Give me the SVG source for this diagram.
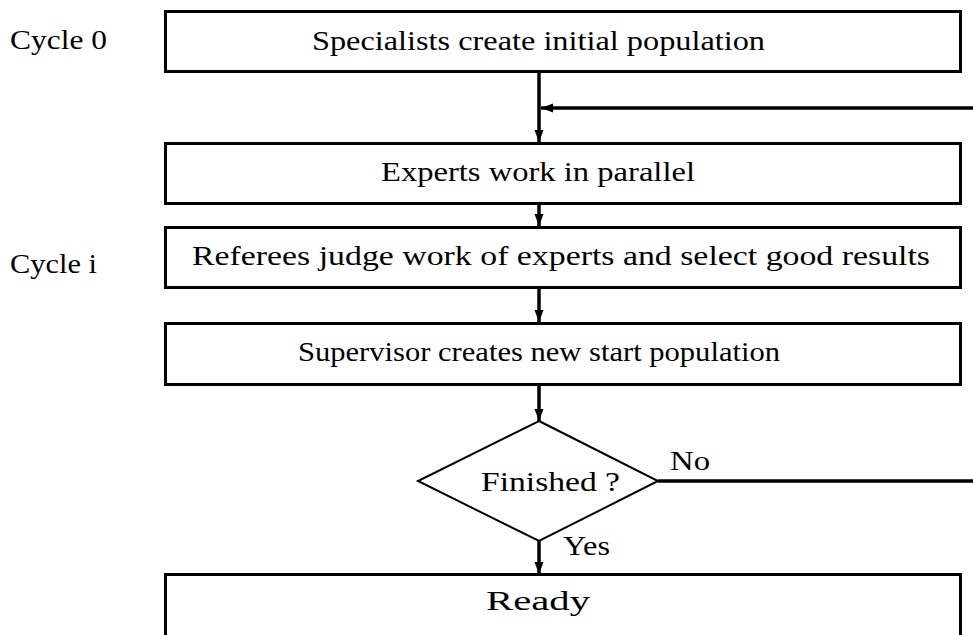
<svg xmlns="http://www.w3.org/2000/svg" width="973" height="635" viewBox="0 0 973 635">
<style>
.box{fill:#fff;stroke:#000;stroke-width:3}
.dia{fill:#fff;stroke:#000;stroke-width:2}
.t{font-family:"Liberation Serif","DejaVu Serif",serif;font-size:27px;fill:#000}
.c{text-anchor:middle}
.ln{fill:none;stroke:#000;stroke-width:3.5}
</style>
<defs>
<marker id="ah" markerUnits="userSpaceOnUse" markerWidth="12" markerHeight="12" viewBox="0 0 12 12" refX="12" refY="6" orient="auto">
<path d="M0,1.5 L12,6 L0,10.5 Z" fill="#000"/>
</marker>
</defs>
<rect width="973" height="635" fill="#fff"/>
<g id="connectors">
<line class="ln" x1="539" y1="72" x2="539" y2="142" marker-end="url(#ah)"/>
<line class="ln" x1="973" y1="108" x2="541" y2="108" marker-end="url(#ah)"/>
<line class="ln" x1="539" y1="204" x2="539" y2="226" marker-end="url(#ah)"/>
<line class="ln" x1="539" y1="288" x2="539" y2="322" marker-end="url(#ah)"/>
<line class="ln" x1="539" y1="385" x2="539" y2="421" marker-end="url(#ah)"/>
<line class="ln" x1="539" y1="541" x2="539" y2="574" marker-end="url(#ah)"/>
<line class="ln" x1="658" y1="481" x2="973" y2="481"/>
<text class="t" x="670" y="470" textLength="40" lengthAdjust="spacingAndGlyphs">No</text>
<text class="t" x="563" y="555" textLength="47" lengthAdjust="spacingAndGlyphs">Yes</text>
</g>
<g id="labels">
<text class="t" x="10" y="49" textLength="97" lengthAdjust="spacingAndGlyphs">Cycle 0</text>
<text class="t" x="10" y="273" textLength="87" lengthAdjust="spacingAndGlyphs">Cycle i</text>
</g>
<g id="n1">
<rect class="box" x="165.5" y="11.5" width="795" height="60"/>
<text class="t c" x="538.5" y="50" textLength="453" lengthAdjust="spacingAndGlyphs">Specialists create initial population</text>
</g>
<g id="n2">
<rect class="box" x="165.5" y="143.5" width="795" height="60"/>
<text class="t c" x="538" y="181" textLength="314" lengthAdjust="spacingAndGlyphs">Experts work in parallel</text>
</g>
<g id="n3">
<rect class="box" x="165.5" y="227.5" width="795" height="60"/>
<text class="t c" x="561" y="265" textLength="738" lengthAdjust="spacingAndGlyphs">Referees judge work of experts and select good results</text>
</g>
<g id="n4">
<rect class="box" x="165.5" y="323.5" width="795" height="61"/>
<text class="t c" x="539" y="361" textLength="482" lengthAdjust="spacingAndGlyphs">Supervisor creates new start population</text>
</g>
<g id="n5">
<polygon class="dia" points="539,421 658,481 539,541 418,481"/>
<text class="t c" x="550.5" y="491" textLength="139" lengthAdjust="spacingAndGlyphs">Finished ?</text>
</g>
<g id="n6">
<rect class="box" x="165.5" y="574.5" width="795" height="70"/>
<text class="t c" x="538" y="610" textLength="104" lengthAdjust="spacingAndGlyphs">Ready</text>
</g>
</svg>
